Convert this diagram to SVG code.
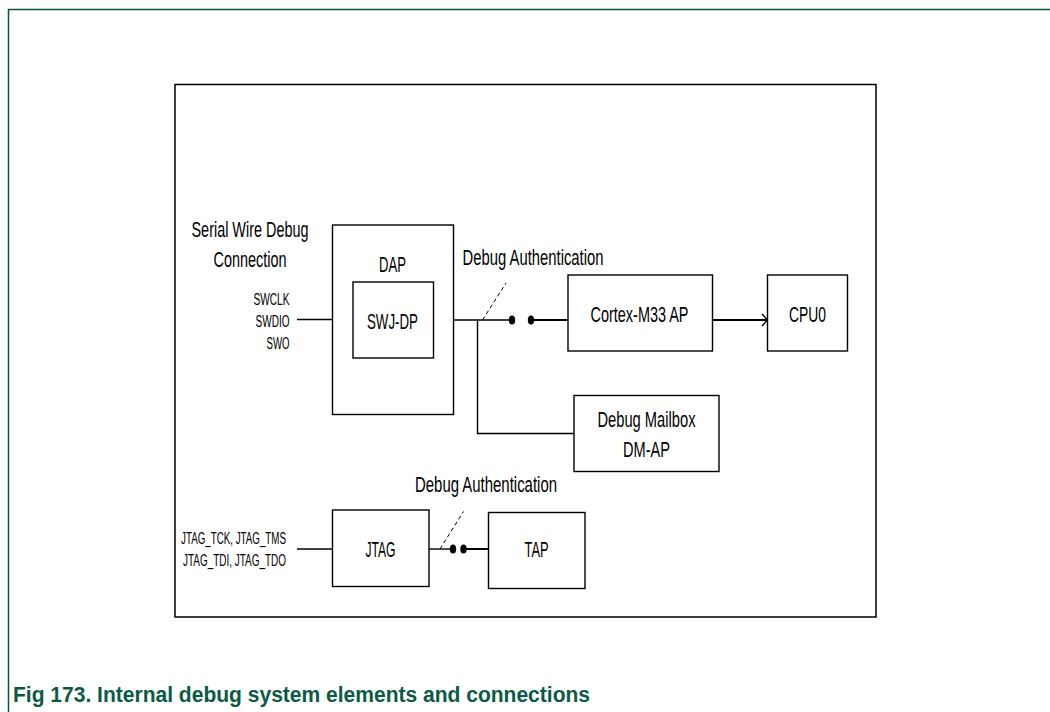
<svg xmlns="http://www.w3.org/2000/svg" width="1050" height="712" viewBox="0 0 1050 712">
<style>
.frame{stroke:#0b5240;stroke-width:1.5;fill:none}
.box{fill:#fff;stroke:#000;stroke-width:1.4}
.ln{fill:none;stroke:#000;stroke-width:1.4}
.dash{fill:none;stroke:#000;stroke-width:1;stroke-dasharray:4 3}
.t{font-family:"Liberation Sans",Arial,sans-serif;font-size:22px;fill:#000}
.s{font-family:"Liberation Sans",Arial,sans-serif;font-size:16px;fill:#000}
.cap{font-family:"Liberation Sans",Arial,sans-serif;font-size:22px;font-weight:bold;fill:#0b5a45}
</style>
<rect width="1050" height="712" fill="#fff"/>
<g id="page-frame">
<line class="frame" x1="8" y1="9.5" x2="1050" y2="9.5"/>
<line class="frame" x1="8.5" y1="9" x2="8.5" y2="712"/>
</g>
<g id="outer"><rect x="175" y="84.5" width="701" height="532.5" fill="none" stroke="#000" stroke-width="1.5"/></g>
<g id="connectors">
<line class="ln" x1="297" y1="319.5" x2="353" y2="319.5"/>
<line class="ln" x1="450" y1="320" x2="512" y2="320"/>
<line class="dash" x1="482.5" y1="320" x2="506" y2="283"/>
<ellipse cx="512" cy="320" rx="3.2" ry="4.5" fill="#000"/>
<ellipse cx="531" cy="320" rx="3.2" ry="4.5" fill="#000"/>
<line class="ln" x1="531" y1="320" x2="568" y2="320" style="stroke-width:2"/>
<polyline class="ln" points="477.5,320 477.5,433.5 574,433.5"/>
<line class="ln" x1="712" y1="320" x2="767" y2="320" style="stroke-width:2"/>
<polyline class="ln" points="762,314 767.5,320 762,326"/>
<line class="ln" x1="297" y1="549" x2="332" y2="549"/>
<line class="ln" x1="429" y1="549" x2="453" y2="549"/>
<line class="dash" x1="440" y1="549" x2="463.5" y2="511.5"/>
<ellipse cx="453" cy="549" rx="3.2" ry="4.5" fill="#000"/>
<ellipse cx="463.5" cy="549" rx="3.2" ry="4.5" fill="#000"/>
<line class="ln" x1="463.5" y1="549" x2="488" y2="549" style="stroke-width:2"/>
</g>
<g id="labels">
<text class="t" x="250" y="237" text-anchor="middle" textLength="117" lengthAdjust="spacingAndGlyphs">Serial Wire Debug</text>
<text class="t" x="250" y="267" text-anchor="middle" textLength="73" lengthAdjust="spacingAndGlyphs">Connection</text>
<text class="s" x="289.5" y="304.5" text-anchor="end" textLength="36" lengthAdjust="spacingAndGlyphs">SWCLK</text>
<text class="s" x="289.5" y="327" text-anchor="end" textLength="34" lengthAdjust="spacingAndGlyphs">SWDIO</text>
<text class="s" x="289.5" y="348.5" text-anchor="end" textLength="23" lengthAdjust="spacingAndGlyphs">SWO</text>
<text class="t" x="533" y="264.5" text-anchor="middle" textLength="141" lengthAdjust="spacingAndGlyphs">Debug Authentication</text>
<text class="t" x="486" y="492" text-anchor="middle" textLength="142" lengthAdjust="spacingAndGlyphs">Debug Authentication</text>
<text class="s" x="286" y="544" text-anchor="end" textLength="105" lengthAdjust="spacingAndGlyphs">JTAG_TCK, JTAG_TMS</text>
<text class="s" x="286" y="565.5" text-anchor="end" textLength="103" lengthAdjust="spacingAndGlyphs">JTAG_TDI, JTAG_TDO</text>
</g>
<g id="dap">
<rect class="box" x="332.5" y="225" width="121" height="189.5"/>
<text class="t" x="392.5" y="271.5" text-anchor="middle" textLength="27" lengthAdjust="spacingAndGlyphs">DAP</text>
</g>
<g id="swj-dp">
<rect class="box" x="353" y="282" width="80.5" height="76"/>
<text class="t" x="392.5" y="328.5" text-anchor="middle" textLength="51" lengthAdjust="spacingAndGlyphs">SWJ-DP</text>
</g>
<g id="cortex-m33-ap">
<rect class="box" x="568" y="275" width="144.5" height="76"/>
<text class="t" x="639.5" y="322" text-anchor="middle" textLength="98" lengthAdjust="spacingAndGlyphs">Cortex-M33 AP</text>
</g>
<g id="cpu0">
<rect class="box" x="767.5" y="275" width="80" height="76"/>
<text class="t" x="807.5" y="322" text-anchor="middle" textLength="37" lengthAdjust="spacingAndGlyphs">CPU0</text>
</g>
<g id="debug-mailbox">
<rect class="box" x="574" y="395.5" width="145" height="76"/>
<text class="t" x="646.5" y="427" text-anchor="middle" textLength="98" lengthAdjust="spacingAndGlyphs">Debug Mailbox</text>
<text class="t" x="646.5" y="456.5" text-anchor="middle" textLength="47" lengthAdjust="spacingAndGlyphs">DM-AP</text>
</g>
<g id="jtag">
<rect class="box" x="332.5" y="510" width="96.5" height="76.5"/>
<text class="t" x="380.5" y="557" text-anchor="middle" textLength="30" lengthAdjust="spacingAndGlyphs">JTAG</text>
</g>
<g id="tap">
<rect class="box" x="488.5" y="512.5" width="96.5" height="76"/>
<text class="t" x="536.5" y="557" text-anchor="middle" textLength="24" lengthAdjust="spacingAndGlyphs">TAP</text>
</g>
<text class="cap" x="13" y="702" textLength="577" lengthAdjust="spacingAndGlyphs">Fig 173. Internal debug system elements and connections</text>
</svg>
